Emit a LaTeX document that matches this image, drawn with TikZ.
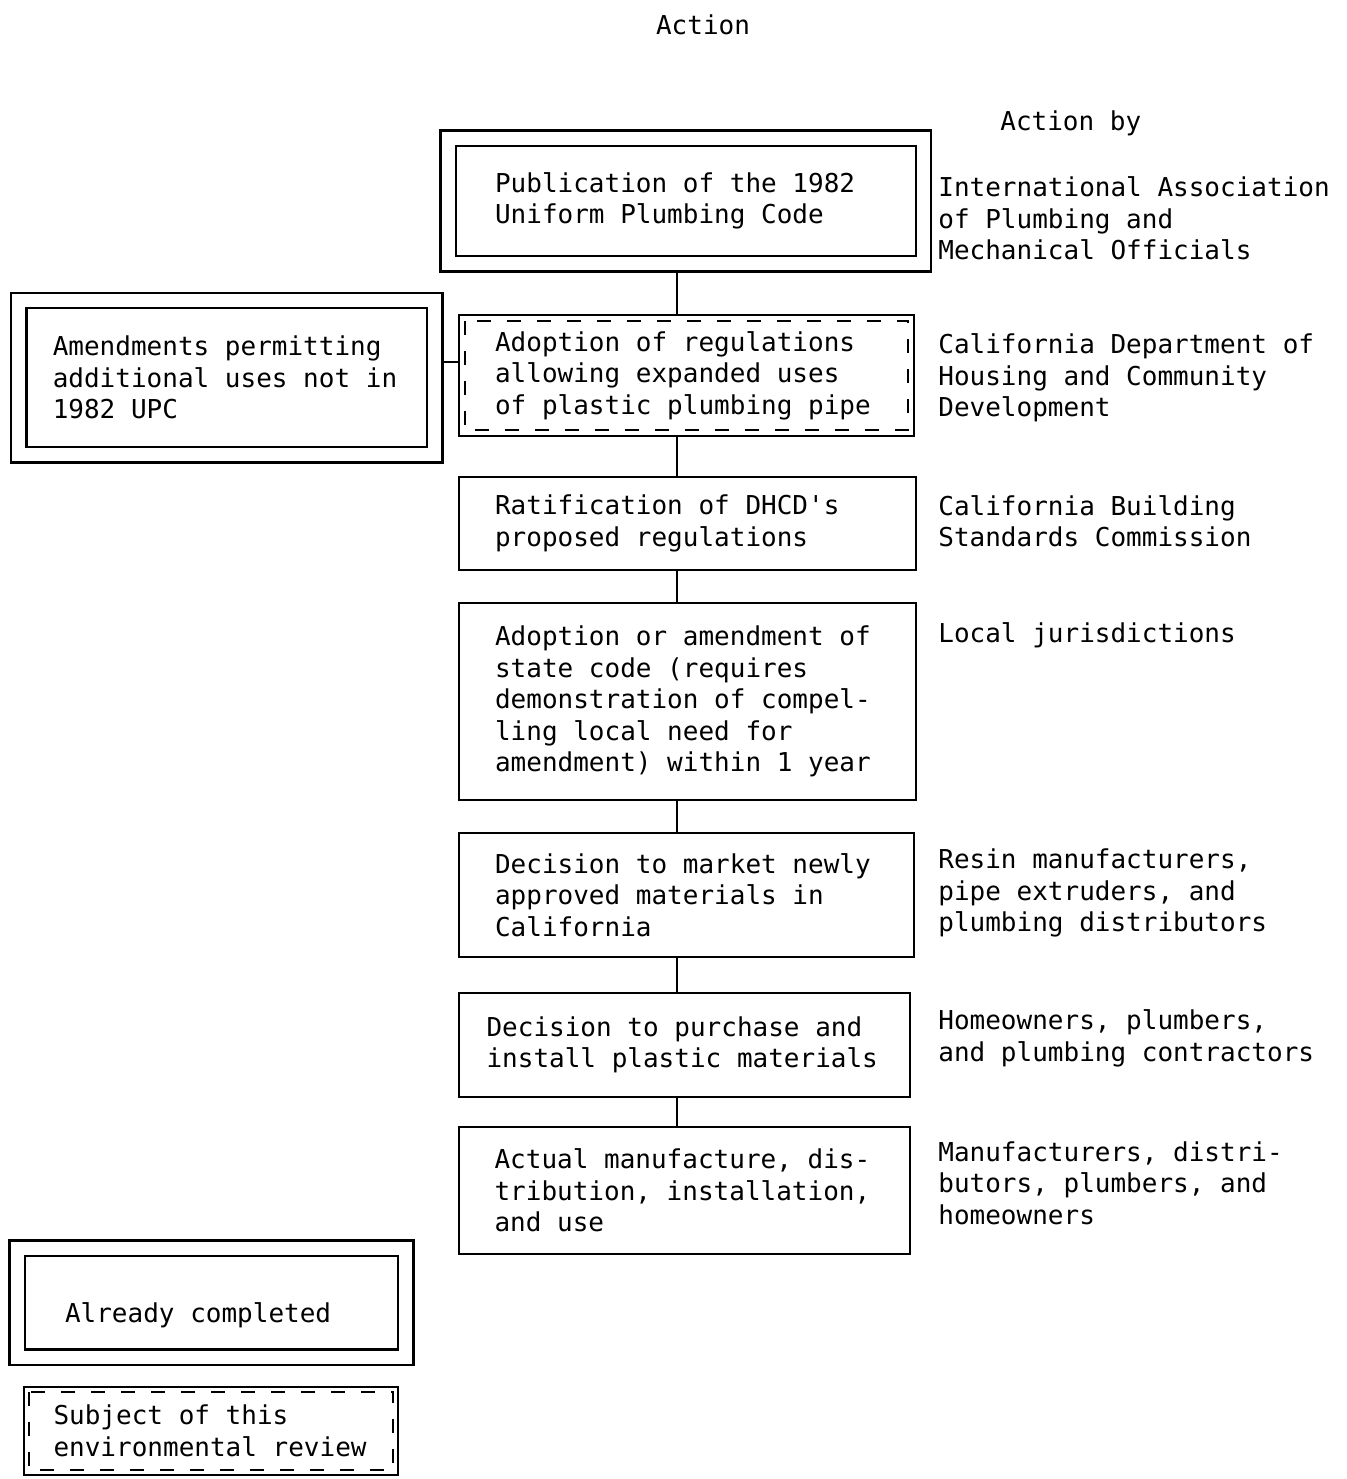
\documentclass[tikz,border=0pt]{standalone}
\usepackage{fontspec}
\setmonofont{DejaVu Sans Mono}

\begin{document}
\begin{tikzpicture}[x=0.02cm, y=-0.02cm,
    every node/.style={font=\ttfamily\fontsize{14.8}{17.9}\selectfont, inner sep=0pt},
    stepbox/.style={draw, line width=1.4pt, align=flush left},
    donebox/.style={stepbox, double, double distance=0.26cm},
    actor/.style={anchor=west, align=left},
    link/.style={line width=1.1pt},
    reviewline/.style={line width=1.2pt, dash pattern=on 0.28cm off 0.32cm}]

    % Page size
    \useasboundingbox (0,0) rectangle (1346,1479);

    % Column headings
    \node (head) at (703,25) {Action};
    \node[anchor=west] (byhead) at (1000,123) {Action by};

    % Steps of the approval chain
    \node[donebox, minimum width=9.51cm, minimum height=2.52cm, text width=7.63cm] (b1) at (685.75,201)
        {Publication of the 1982\\Uniform Plumbing Code};
    \node[stepbox, minimum width=9.10cm, minimum height=2.42cm, text width=7.66cm] (b2) at (686.5,375.5)
        {Adoption of regulations\\allowing expanded uses\\of plastic plumbing pipe};
    \node[stepbox, minimum width=9.14cm, minimum height=1.86cm, text width=7.70cm] (b3) at (687.5,523.5)
        {Ratification of DHCD's\\proposed regulations};
    \node[stepbox, minimum width=9.14cm, minimum height=3.94cm, text width=7.70cm] (b4) at (687.5,701.5)
        {Adoption or amendment of\\state code (requires\\demonstration of compel-\\ling local need for\\amendment) within 1 year};
    \node[stepbox, minimum width=9.10cm, minimum height=2.48cm, text width=7.66cm] (b5) at (686.5,895)
        {Decision to market newly\\approved materials in\\California};
    \node[stepbox, minimum width=9.02cm, minimum height=2.08cm, text width=7.92cm] (b6) at (684.5,1045)
        {Decision to purchase and\\install plastic materials};
    \node[stepbox, minimum width=9.02cm, minimum height=2.54cm, text width=7.60cm] (b7) at (684.5,1190.5)
        {Actual manufacture, dis-\\tribution, installation,\\and use};

    % Dashed inset marks the step under review
    \draw[reviewline] ([shift={(7,7)}]b2.north west) rectangle ([shift={(-7,-7)}]b2.south east);

    % Side branch
    \node[donebox, minimum width=8.33cm, minimum height=3.09cm, text width=6.96cm] (amend) at (226.75,377.75)
        {Amendments permitting\\additional uses not in\\1982 UPC};

    % Who acts at each step
    \node[actor] (who1) at (938,218.5) {International Association\\of Plumbing and\\Mechanical Officials};
    \node[actor] (who2) at (938,378) {California Department of\\Housing and Community\\Development};
    \node[actor] (who3) at (938,521.5) {California Building\\Standards Commission};
    \node[actor] (who4) at (938,635) {Local jurisdictions};
    \node[actor] (who5) at (938,893) {Resin manufacturers,\\pipe extruders, and\\plumbing distributors};
    \node[actor] (who6) at (938,1038.5) {Homeowners, plumbers,\\and plumbing contractors};
    \node[actor] (who7) at (938,1183) {Manufacturers, distri-\\butors, plumbers, and\\homeowners};

    % Connectors
    \coordinate (spine) at (677,0);
    \coordinate (side) at (0,362);
    \draw[link, shorten <=0.155cm] (b1.south -| spine) -- (b2.north -| spine);
    \foreach \a/\b in {b2/b3, b3/b4, b4/b5, b5/b6, b6/b7}
        \draw[link] (\a.south -| spine) -- (\b.north -| spine);
    \draw[link, shorten >=0.155cm] (b2.west |- side) -- (amend.east |- side);

    % Legend
    \node[donebox, minimum width=7.78cm, minimum height=2.18cm, text width=5.86cm, text height=0.92cm] (key1) at (211.5,1302.5)
        {Already completed};
    \node[stepbox, minimum width=7.48cm, minimum height=1.76cm, text width=6.30cm] (key2) at (211,1431)
        {Subject of this\\environmental review};
    \draw[reviewline] ([shift={(6,6)}]key2.north west) rectangle ([shift={(-6,-6)}]key2.south east);

\end{tikzpicture}
\end{document}
